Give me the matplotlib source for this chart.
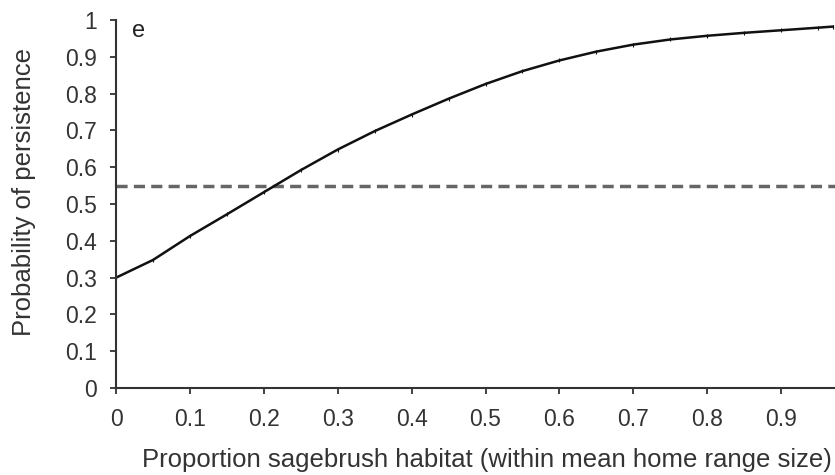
import numpy as np
import matplotlib
matplotlib.use("Agg")
import matplotlib.pyplot as plt

plt.rcParams['font.family'] = ['Liberation Sans', 'DejaVu Sans']
plt.rcParams['xtick.direction'] = 'out'
plt.rcParams['ytick.direction'] = 'out'

# proportion of sagebrush habitat vs probability of persistence
prop = [0.0, 0.05, 0.10, 0.15, 0.20, 0.25, 0.30, 0.35, 0.40, 0.45, 0.50,
        0.55, 0.60, 0.65, 0.70, 0.75, 0.80, 0.85, 0.90, 0.95, 0.97]
persist = [0.30, 0.348, 0.413, 0.472, 0.532, 0.592, 0.648, 0.698, 0.743, 0.786, 0.826,
           0.861, 0.890, 0.914, 0.933, 0.947, 0.957, 0.965, 0.972, 0.979, 0.982]
threshold = 0.55

xticks = [0, 0.1, 0.2, 0.3, 0.4, 0.5, 0.6, 0.7, 0.8, 0.9]
xticklabels = ['0', '0.1', '0.2', '0.3', '0.4', '0.5', '0.6', '0.7', '0.8', '0.9']
yticks = [0, 0.1, 0.2, 0.3, 0.4, 0.5, 0.6, 0.7, 0.8, 0.9, 1.0]
yticklabels = ['0', '0.1', '0.2', '0.3', '0.4', '0.5', '0.6', '0.7', '0.8', '0.9', '1']

fig = plt.figure(figsize=(8.35, 4.75), dpi=100)
ax = fig.add_axes([0.139, 0.183, 0.861, 0.775])

ax.axhline(threshold, color='#666666', lw=2.5, dashes=(3.2, 1.8))
ax.plot(prop, persist, color='#111111', lw=1.8, marker='|', ms=3, mew=0.8)

ax.text(0.03, 0.97, 'e', fontsize=17, color='#222222', va='center', ha='center')

ax.set_xlim(0, 0.973)
ax.set_ylim(0, 1)
ax.set_xticks(xticks)
ax.set_xticklabels(xticklabels)
ax.set_yticks(yticks)
ax.set_yticklabels(yticklabels)
ax.tick_params(labelsize=16.5, colors='#333333', length=4.5, width=1.3, pad=9.5)

for s in ['top', 'right']:
    ax.spines[s].set_visible(False)
for s in ['left', 'bottom']:
    ax.spines[s].set_linewidth(1.5)
    ax.spines[s].set_color('#333333')

ax.set_xlabel('Proportion sagebrush habitat (within mean home range size)',
              fontsize=18.5, color='#333333', va='center', ha='center')
ax.xaxis.set_label_coords(0.516, -0.196)
ax.set_ylabel('Probability of persistence', fontsize=18.5, color='#333333',
              va='center', ha='center')
ax.yaxis.set_label_coords(-0.128, 0.533)

plt.savefig('out.png', dpi=100)
